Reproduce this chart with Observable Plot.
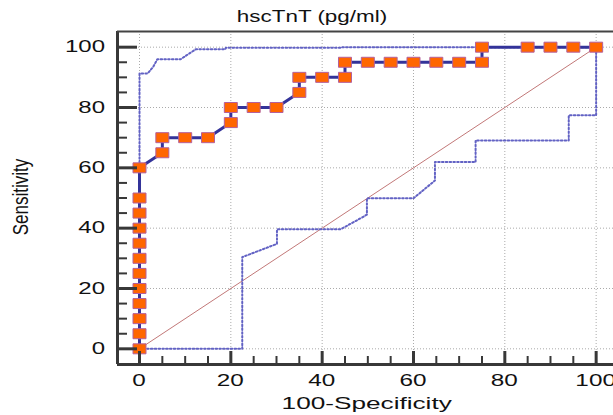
<!DOCTYPE html>
<html><head><meta charset="utf-8">
<script src="https://cdn.jsdelivr.net/npm/d3@7"></script>
<script src="https://cdn.jsdelivr.net/npm/@observablehq/plot@0.6"></script>
<style>body{margin:0;background:#fff}svg{display:block}</style>
</head><body><div id="chart"></div>
<script>
const title = "hscTnT (pg/ml)";
const xLabel = "100-Specificity";
const yLabel = "Sensitivity";
const xTicks = [0, 20, 40, 60, 80, 100];
const yTicks = [0, 20, 40, 60, 80, 100];
const xMinor = [5, 10, 15, 25, 30, 35, 45, 50, 55, 65, 70, 75, 85, 90, 95];
const yMinor = [5, 10, 15, 25, 30, 35, 45, 50, 55, 65, 70, 75, 85, 90, 95];
const xDomain = [-4.82, 103.8];
const yDomain = [-5.2, 105.2];

// ROC curve points
const rocX = [0,0,0,0,0,0,0,0,0,0,0,0,5,5,10,15,20,20,25,30,35,35,40,45,45,50,55,60,65,70,75,75,85,90,95,100];
const rocY = [0,5,10,15,20,25,30,35,40,45,50,60,65,70,70,70,75,80,80,80,85,90,90,90,95,95,95,95,95,95,95,100,100,100,100,100];
// Upper confidence bound
const upX = [0, 0, 1.8, 3, 3.9, 9, 12.3, 18.8, 18.9, 44, 44.1, 100];
const upY = [0, 91.3, 91.3, 93.5, 96, 96, 99.3, 99.3, 99.8, 99.8, 100, 100];
// Lower confidence bound
const loX = [0, 22.5, 22.5, 30.1, 30.1, 44, 48.8, 49.8, 49.8, 60, 64.7, 64.7, 73.6, 73.6, 94, 94, 100, 100];
const loY = [0, 0, 30.4, 34.8, 39.6, 39.6, 43.6, 44.5, 49.9, 49.9, 55.8, 61.9, 61.9, 69.1, 69.1, 77.4, 77.4, 100];
// Diagonal reference
const refX = [0, 100];
const refY = [0, 100];

const toRows = (xs, ys) => xs.map((x, i) => ({x, y: ys[i]}));
const roc = toRows(rocX, rocY);
const upper = toRows(upX, upY);
const lower = toRows(loX, loY);
const ref = toRows(refX, refY);

const wideSquare = {
  draw(ctx, size) {
    const r = Math.sqrt(size / Math.PI);
    ctx.rect(-1.3 * r, -r, 2.6 * r, 2 * r);
  }
};

const axisCol = "#383838";
const blank = () => "";

const chart = Plot.plot({
  width: 613, height: 415,
  marginTop: 31, marginBottom: 51, marginLeft: 117, marginRight: 0,
  x: {domain: xDomain},
  y: {domain: yDomain},
  style: {fontFamily: "'Liberation Sans', Arial, sans-serif", color: "#111", background: "#fff", overflow: "visible"},
  marks: [
    Plot.gridX(xTicks, {stroke: "#aaa", strokeOpacity: 1, strokeDasharray: "1,2"}),
    Plot.gridY(yTicks, {stroke: "#aaa", strokeOpacity: 1, strokeDasharray: "1,2"}),
    Plot.line(ref, {x: "x", y: "y", stroke: "#c27878", strokeWidth: 1}),
    Plot.line(upper, {x: "x", y: "y", stroke: "#6262c4", strokeWidth: 2, strokeDasharray: "1.6,2.2"}),
    Plot.line(lower, {x: "x", y: "y", stroke: "#6262c4", strokeWidth: 2, strokeDasharray: "1.6,2.2"}),
    Plot.line(roc, {x: "x", y: "y", stroke: "#333399", strokeWidth: 3}),
    Plot.dot(roc, {x: "x", y: "y", symbol: wideSquare, r: 5, fill: "#ff6600", stroke: "#b4609c", strokeWidth: 1}),
    Plot.ruleX([xDomain[0]], {stroke: axisCol, strokeWidth: 3}),
    Plot.ruleY([yDomain[0]], {stroke: axisCol, strokeWidth: 3}),
    Plot.ruleY([yDomain[1]], {stroke: "#444", strokeWidth: 2}),
    Plot.axisX(xTicks, {tickSize: 13, dy: -13, strokeWidth: 3, stroke: axisCol, tickFormat: blank, label: null}),
    Plot.axisX(xMinor, {tickSize: 8, dy: -8, strokeWidth: 2, stroke: axisCol, tickFormat: blank, label: null}),
    Plot.axisY(yTicks, {tickSize: 20, dx: 20, strokeWidth: 3, stroke: axisCol, tickFormat: blank, label: null}),
    Plot.axisY(yMinor, {tickSize: 10, dx: 10, strokeWidth: 2, stroke: axisCol, tickFormat: blank, label: null})
  ]
});

const svg = d3.select(chart);
const sx = chart.scale("x"), sy = chart.scale("y");
const xBottom = sy.apply(yDomain[0]);
const yLeft = sx.apply(xDomain[0]);

// tick labels, positioned through Plot's scales, horizontally stretched like the reference
const lab = svg.append("g").attr("fill", "#111").attr("font-family", "'Liberation Sans', Arial, sans-serif");
xTicks.forEach(v => {
  lab.append("text")
    .attr("transform", `translate(${sx.apply(v)},${xBottom + 22}) scale(1.43,1)`)
    .attr("text-anchor", "middle").attr("font-size", 17).text(String(v));
});
yTicks.forEach(v => {
  lab.append("text")
    .attr("transform", `translate(${yLeft - 12},${sy.apply(v) + 5.7}) scale(1.5,1)`)
    .attr("text-anchor", "end").attr("font-size", 16).text(String(v));
});

lab.append("text").attr("transform", "translate(312,21.5) scale(1.32,1)")
  .attr("text-anchor", "middle").attr("font-size", 17).text(title);
lab.append("text").attr("transform", "translate(366.7,409) scale(1.54,1)")
  .attr("text-anchor", "middle").attr("font-size", 17).text(xLabel);
lab.append("text").attr("transform", "translate(28.4,197) scale(1.27,1) rotate(-90)")
  .attr("text-anchor", "middle").attr("font-size", 17).text(yLabel);

document.getElementById("chart").appendChild(chart);
</script>
</body></html>
